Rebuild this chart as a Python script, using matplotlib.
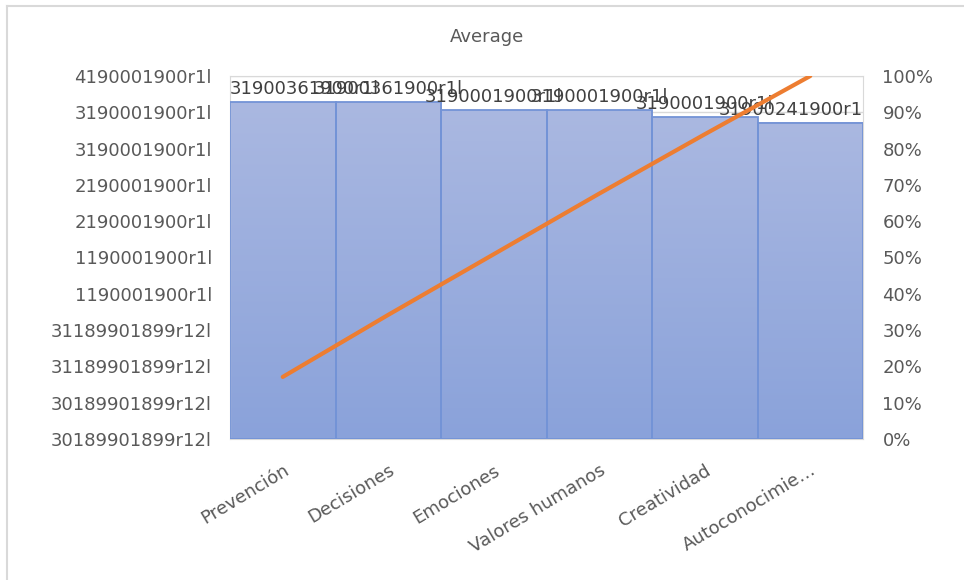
import numpy as np
import matplotlib
matplotlib.use("Agg")
import matplotlib.pyplot as plt
from matplotlib.colors import LinearSegmentedColormap
from matplotlib.lines import Line2D

# data
categories = ["Prevención", "Decisiones", "Emociones", "Valores humanos",
              "Creatividad", "Autoconocimie…"]
averages = [9.28, 9.28, 9.06, 9.06, 8.87, 8.71]
value_labels = ["31900361900r1l", "31900361900r1l", "3190001900r1l",
                "3190001900r1l", "3190001900r1l", "31900241900r1"]
left_tick_labels = ["30189901899r12l", "30189901899r12l", "31189901899r12l",
                    "31189901899r12l", "1190001900r1l", "1190001900r1l",
                    "2190001900r1l", "2190001900r1l", "3190001900r1l",
                    "3190001900r1l", "4190001900r1l"]
pct_ticks = [0, 0.1, 0.2, 0.3, 0.4, 0.5, 0.6, 0.7, 0.8, 0.9, 1.0]

cumulative = np.cumsum(averages) / np.sum(averages)

plt.rcParams["font.family"] = ["DejaVu Sans"]
text_grey = "#595959"
fs = 13

fig = plt.figure(figsize=(9.64, 5.8), dpi=100)
ax = fig.add_axes([230 / 964, 141 / 580, 633 / 964, 363 / 580])

x = np.arange(len(categories))
bars = ax.bar(x, averages, width=1.0, color="none", edgecolor="#7393D6",
              linewidth=1.3, zorder=3)

# vertical gradient fill for each bar
cmap = LinearSegmentedColormap.from_list("fill", ["#8AA2DA", "#AAB8E1"])
grad = np.linspace(0, 1, 256).reshape(-1, 1)
for b in bars:
    ax.imshow(grad, cmap=cmap, origin="lower", aspect="auto", zorder=2,
              extent=[b.get_x(), b.get_x() + b.get_width(), 0, b.get_height()])

# data labels, kept inside the plot area at the ends
for i, (b, lab) in enumerate(zip(bars, value_labels)):
    if i == 0:
        xpos, ha = b.get_x(), "left"
    elif i == len(bars) - 1:
        xpos, ha = b.get_x() + b.get_width(), "right"
    else:
        xpos, ha = b.get_x() + b.get_width() / 2, "center"
    ax.annotate(lab, (xpos, b.get_height()), xytext=(0, 3),
                textcoords="offset points", ha=ha, va="bottom",
                fontsize=fs, color="#404040", zorder=5)

ax.set_xlim(-0.5, len(categories) - 0.5)
ax.set_ylim(0, 10)
ax.set_yticks(range(len(left_tick_labels)))
ax.set_yticklabels(left_tick_labels)
ax.set_xticks(x)
ax.set_xticklabels(categories, rotation=31, ha="right", va="top",
                   rotation_mode="anchor")
ax.tick_params(axis="y", length=0, pad=13, labelsize=fs, colors=text_grey)
ax.tick_params(axis="x", length=0, pad=16, labelsize=fs, colors=text_grey)
ax.set_axisbelow(True)
ax.yaxis.grid(True, color="#D9D9D9", linewidth=1)
for s in ax.spines.values():
    s.set_color("#D9D9D9")

# cumulative percentage line
ax2 = ax.twinx()
ax2.plot(x, cumulative, color="#ED7D31", linewidth=3, solid_capstyle="round",
         zorder=4)
ax2.set_ylim(0, 1)
ax2.set_yticks(pct_ticks)
ax2.set_yticklabels([f"{int(round(p * 100))}%" for p in pct_ticks])
ax2.tick_params(axis="y", length=0, pad=14, labelsize=fs, colors=text_grey)
for s in ax2.spines.values():
    s.set_visible(False)

fig.text(487 / 964, 1 - 37 / 580, "Average", ha="center", va="center",
         fontsize=13, color=text_grey)

# chart border (only left and top edges show in the reference)
border = "#D9D9D9"
fig.add_artist(Line2D([7 / 964, 7 / 964], [0, 1 - 6 / 580],
                      transform=fig.transFigure, color=border, linewidth=1.5))
fig.add_artist(Line2D([7 / 964, 1], [1 - 6 / 580, 1 - 6 / 580],
                      transform=fig.transFigure, color=border, linewidth=1.5))

fig.savefig("out.png", dpi=100)
